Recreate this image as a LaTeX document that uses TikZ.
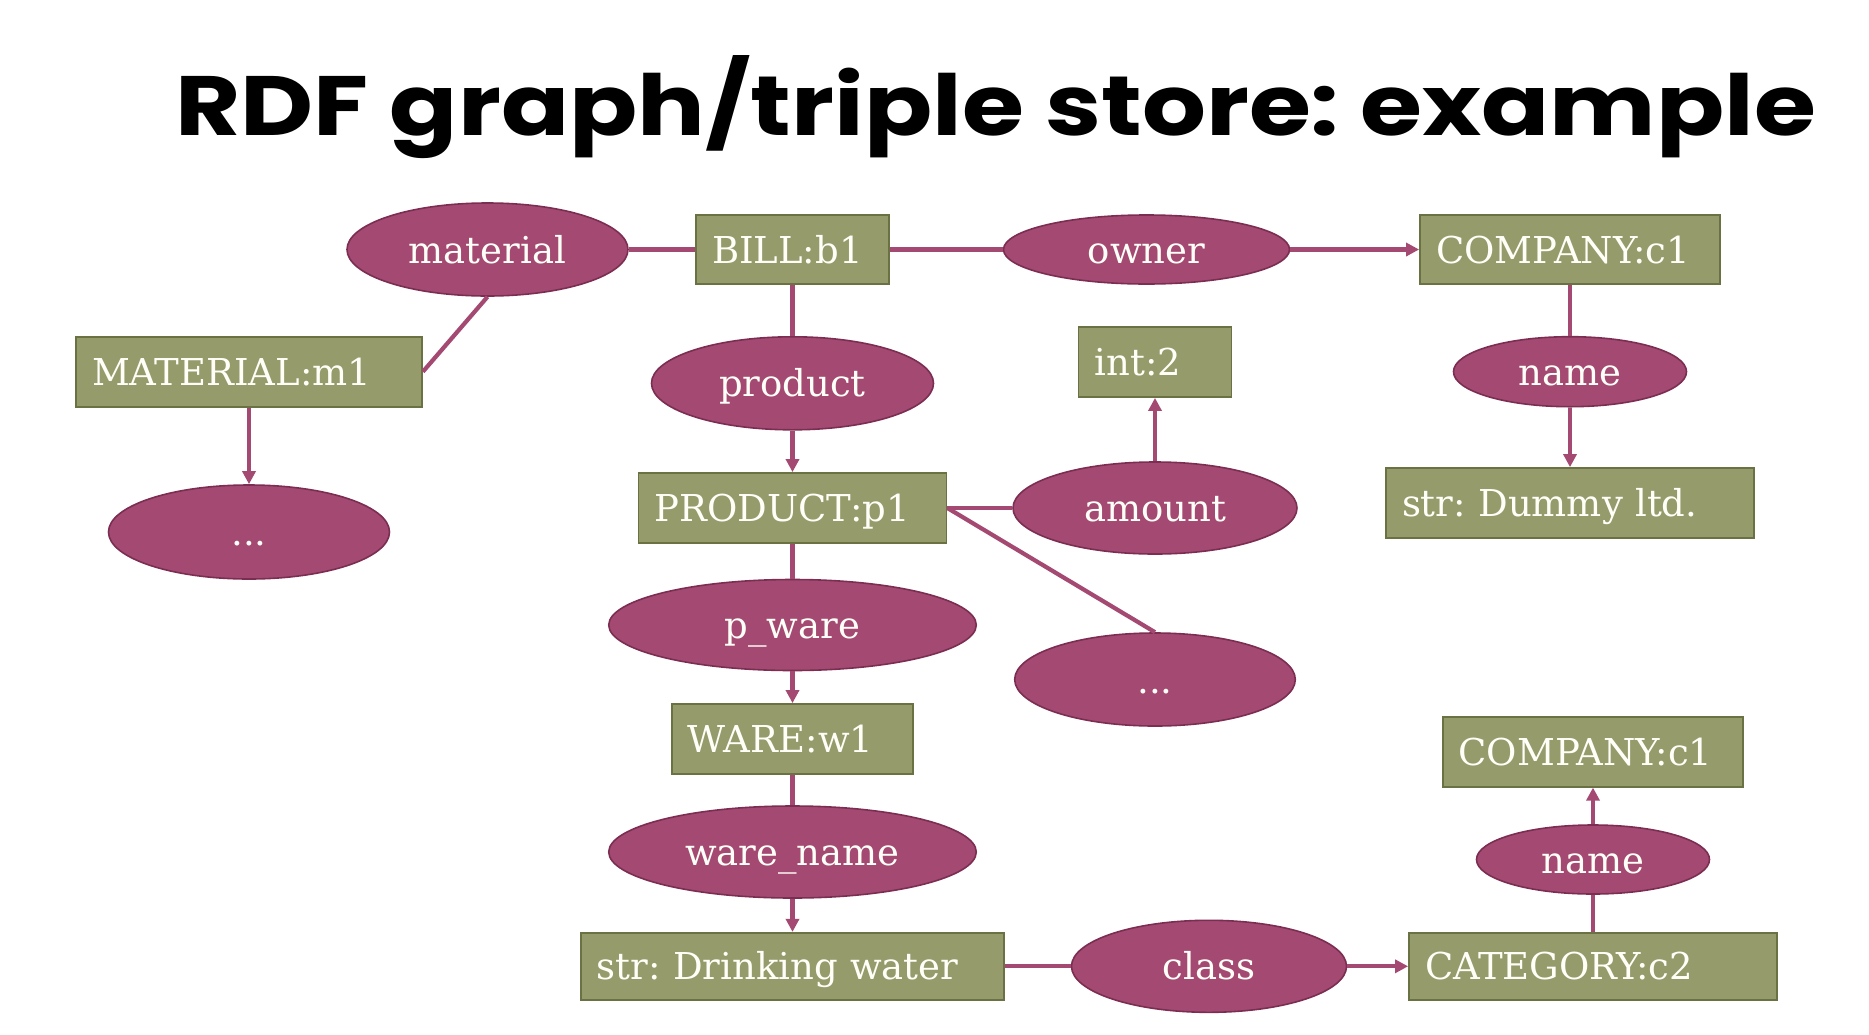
\documentclass[tikz,border=0pt]{standalone}
\usepackage{fontspec}
\usetikzlibrary{shapes.geometric,arrows.meta}
\newfontfamily\nodefont{DejaVu Serif}
\newfontfamily\titlefont{Poppins}
\definecolor{efill}{HTML}{A44A72}
\definecolor{eborder}{HTML}{7B2D52}
\definecolor{rfill}{HTML}{959B6B}
\definecolor{rborder}{HTML}{6A7244}
\definecolor{conn}{HTML}{A44A72}
\definecolor{txt}{HTML}{FFFFF8}
\tikzset{
  prop/.style={ellipse, draw=eborder, fill=efill, line width=1.6pt, inner sep=0pt,
    text=txt, font=\fontsize{37pt}{40pt}\selectfont\nodefont\frenchspacing, text height=27pt, text depth=0pt},
  res/.style={rectangle, draw=rborder, fill=rfill, line width=1.8pt, inner xsep=16pt, inner ysep=0pt,
    text=txt, font=\fontsize{37pt}{40pt}\selectfont\nodefont\frenchspacing, align=left, text height=27pt, text depth=0pt},
  link/.style={draw=conn, line width=4.2pt},
  arr/.style={link, -{Triangle[length=13pt,width=13pt]}},
}
\begin{document}
\frenchspacing
\begin{tikzpicture}[x=1pt,y=-1pt]
\useasboundingbox (0,0) rectangle (1869,1034);
\fill[white] (0,0) rectangle (1869,1034);
% title
\node[anchor=base west, inner sep=0pt, text=black] (title) at (175,135.7)
  {\resizebox{1640pt}{80pt}{\titlefont\bfseries RDF graph/triple store: example}};
% nodes
\node[prop, minimum width=281pt, minimum height=93pt] (mat) at (487.5,249.5) {material};
\node[res, minimum height=69pt, text width=161pt] (bill) at (792.5,249.5) {BILL:b1};
\node[prop, minimum width=286pt, minimum height=69pt] (owner) at (1146.5,249.5) {owner};
\node[res, minimum height=69pt, text width=268pt] (comp1) at (1570,249.5) {COMPANY:c1};
\node[res, minimum height=70pt, text width=314pt] (matm1) at (249,371.7) {MATERIAL:m1};
\node[prop, minimum width=281pt, minimum height=94pt] (dots1) at (249,532) {...};
\node[prop, minimum width=282pt, minimum height=93pt] (product) at (792.5,383.3) {product};
\node[res, minimum height=70pt, text width=121pt] (int2) at (1155,362) {int:2};
\node[prop, minimum width=233pt, minimum height=70pt] (name1) at (1570,371.7) {name};
\node[res, minimum height=70pt, text width=276pt] (prod) at (792.5,508) {PRODUCT:p1};
\node[prop, minimum width=284pt, minimum height=92pt] (amount) at (1155,508) {amount};
\node[res, minimum height=70pt, text width=336pt] (dummy) at (1570,503) {str: Dummy ltd.};
\node[prop, minimum width=367.5pt, minimum height=91pt] (pware) at (792.5,625) {p\_ware};
\node[prop, minimum width=280.6pt, minimum height=93pt] (dots2) at (1155,679.5) {...};
\node[res, minimum height=70pt, text width=209.5pt] (ware) at (792.5,739) {WARE:w1};
\node[res, minimum height=70pt, text width=268.7pt] (comp2) at (1593,751.7) {COMPANY:c1};
\node[prop, minimum width=367.5pt, minimum height=92pt] (warename) at (792.5,852) {ware\_name};
\node[prop, minimum width=233pt, minimum height=69pt] (name2) at (1593,859.5) {name};
\node[res, minimum height=67pt, text width=391.6pt] (drink) at (792.5,966.3) {str: Drinking water};
\node[prop, minimum width=275pt, minimum height=92pt] (class) at (1209,966.3) {class};
\node[res, minimum height=67pt, text width=336pt] (cat) at (1593,966.3) {CATEGORY:c2};
% connectors
\path[link] (mat.east) -- (bill.west);
\path[link] (mat.south) -- (matm1.east);
\path[arr] (matm1.south) -- (dots1.north);
\path[link] (bill.east) -- (owner.west);
\path[arr] (owner.east) -- (comp1.west);
\path[link] (bill.south) -- (product.north);
\path[arr] (product.south) -- (prod.north);
\path[link] (prod.east) -- (amount.west);
\path[arr] (amount.north) -- (int2.south);
\path[link] (prod.east) -- (dots2.north);
\path[link] (comp1.south) -- (name1.north);
\path[arr] (name1.south) -- (dummy.north);
\path[link] (prod.south) -- (pware.north);
\path[arr] (pware.south) -- (ware.north);
\path[link] (ware.south) -- (warename.north);
\path[arr] (warename.south) -- (drink.north);
\path[link] (drink.east) -- (class.west);
\path[arr] (class.east) -- (cat.west);
\path[link] (cat.north) -- (name2.south);
\path[arr] (name2.north) -- (comp2.south);
\end{tikzpicture}
\end{document}
